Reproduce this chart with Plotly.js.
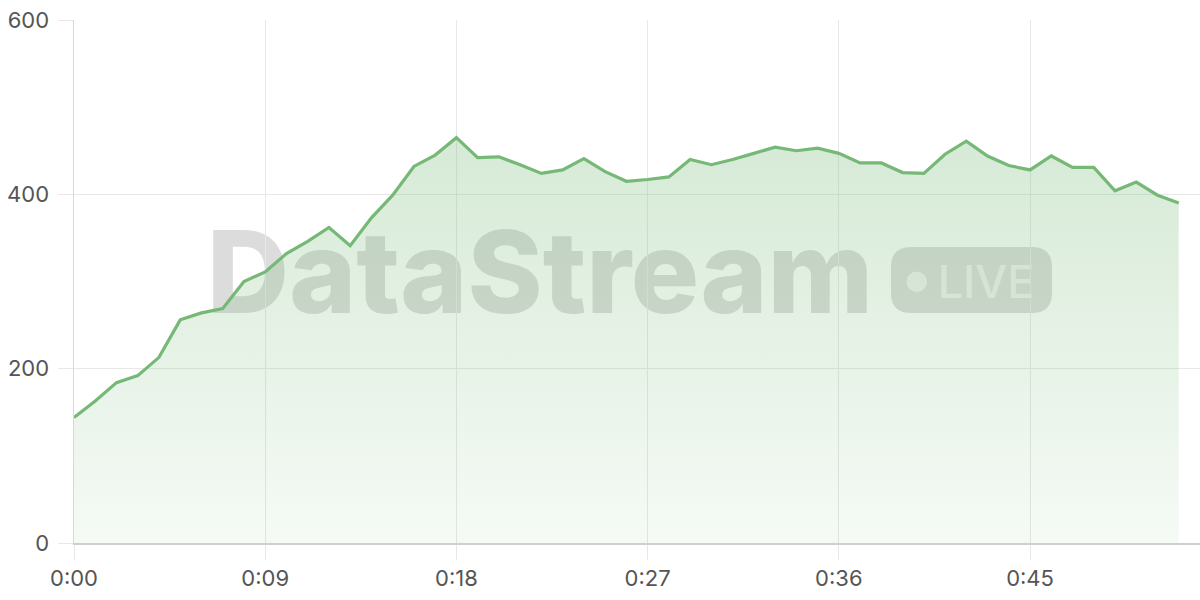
<!DOCTYPE html>
<html>
<head>
<meta charset="utf-8">
<script src="https://cdn.plot.ly/plotly-3.0.1.min.js"></script>
<style>
  html, body { margin: 0; padding: 0; background: #fff; }
  #chart { width: 1200px; height: 600px; }
</style>
</head>
<body>
<div id="chart"></div>
<script>
// seconds since start
const seconds = [0, 1, 2, 3, 4, 5, 6, 7, 8, 9, 10, 11, 12, 13, 14, 15, 16, 17, 18, 19,
  20, 21, 22, 23, 24, 25, 26, 27, 28, 29, 30, 31, 32, 33, 34, 35, 36, 37, 38, 39,
  40, 41, 42, 43, 44, 45, 46, 47, 48, 49, 50, 51, 52];
const values = [144, 163, 184, 192, 213, 256, 264, 269, 300, 311, 332, 346, 362, 341, 373, 399, 432, 445, 465, 442,
  443, 434, 424, 428, 441, 426, 415, 417, 420, 440, 434, 440, 447, 454, 450, 453, 447, 436, 436, 425,
  424, 446, 461, 444, 433, 428, 444, 431, 431, 404, 414, 399, 390];
const tickVals = [0, 9, 18, 27, 36, 45];
const tickText = ["0:00", "0:09", "0:18", "0:27", "0:36", "0:45"];
const yTicks = [0, 200, 400, 600];

// plot area in pixels (from margins) -> paper coords for the watermark
const L = 74, T = 20, W = 1126, H = 523;
const px = function (x) { return (x - L) / W; };
const py = function (y) { return (T + H - y) / H; };

const wmColor = "rgba(120,120,120,0.26)";

function roundRect(x0, y0, x1, y1, r) {
  const a = px(x0), b = px(x1), c = py(y0), d = py(y1);
  const rx = r / W, ry = r / H;
  return "M" + (a + rx) + "," + c +
    " L" + (b - rx) + "," + c + " Q" + b + "," + c + " " + b + "," + (c - ry) +
    " L" + b + "," + (d + ry) + " Q" + b + "," + d + " " + (b - rx) + "," + d +
    " L" + (a + rx) + "," + d + " Q" + a + "," + d + " " + a + "," + (d + ry) +
    " L" + a + "," + (c - ry) + " Q" + a + "," + c + " " + (a + rx) + "," + c + " Z";
}

var data = [
  {
    x: seconds,
    y: values,
    type: "scatter",
    mode: "lines",
    line: { color: "#76b876", width: 3.2 },
    fill: "tozeroy",
    fillgradient: {
      type: "vertical",
      colorscale: [[0, "rgba(118,184,118,0.07)"], [1, "rgba(118,184,118,0.30)"]]
    },
    hoverinfo: "x+y"
  }
];

var layout = {
  width: 1200,
  height: 600,
  margin: { l: L, r: 1200 - L - W, t: T, b: 600 - T - H, pad: 0 },
  paper_bgcolor: "#ffffff",
  plot_bgcolor: "#ffffff",
  showlegend: false,
  font: { family: "Inter, 'Noto Sans', sans-serif", size: 22, color: "#555555" },
  xaxis: {
    range: [0, 53],
    tickvals: tickVals,
    ticktext: tickText,
    showgrid: true,
    gridcolor: "#e8e8e8",
    gridwidth: 1,
    zeroline: false,
    showline: true,
    linecolor: "#cfcfcf",
    linewidth: 1.5,
    ticks: "outside",
    ticklen: 15,
    tickcolor: "#e8e8e8",
    tickwidth: 1,
    fixedrange: true
  },
  yaxis: {
    range: [0, 600],
    tickvals: yTicks,
    showgrid: true,
    gridcolor: "#e8e8e8",
    gridwidth: 1,
    zeroline: false,
    showline: true,
    linecolor: "#d8d8d8",
    linewidth: 1.5,
    ticks: "outside",
    ticklen: 15,
    tickcolor: "#e8e8e8",
    tickwidth: 1,
    ticklabelstandoff: 4,
    fixedrange: true
  },
  shapes: [
    // watermark text
    {
      type: "rect", xref: "paper", yref: "paper", layer: "between",
      x0: px(200), x1: px(880), y0: py(309), y1: py(226),
      line: { width: 0 }, fillcolor: "rgba(0,0,0,0)",
      label: {
        text: "DataStream",
        textposition: "middle center",
        font: { family: "Inter", size: 114, weight: 800, color: wmColor }
      }
    },
    // LIVE badge
    {
      type: "path", xref: "paper", yref: "paper", layer: "between",
      path: roundRect(891, 247, 1052, 313, 20),
      line: { width: 0 }, fillcolor: wmColor
    },
    {
      type: "circle", xref: "paper", yref: "paper", layer: "between",
      x0: px(906.5), x1: px(927), y0: py(292), y1: py(271.5),
      line: { width: 0 }, fillcolor: "rgba(255,255,255,0.6)"
    },
    {
      type: "rect", xref: "paper", yref: "paper", layer: "between",
      x0: px(936), x1: px(1036), y0: py(300), y1: py(260),
      line: { width: 0 }, fillcolor: "rgba(0,0,0,0)",
      label: {
        text: "LIVE",
        textposition: "middle center",
        font: { family: "Inter", size: 45, weight: 500, color: "rgba(255,255,255,0.6)" }
      }
    }
  ]
};

Plotly.newPlot("chart", data, layout, { displayModeBar: false, staticPlot: true });
</script>
</body>
</html>
